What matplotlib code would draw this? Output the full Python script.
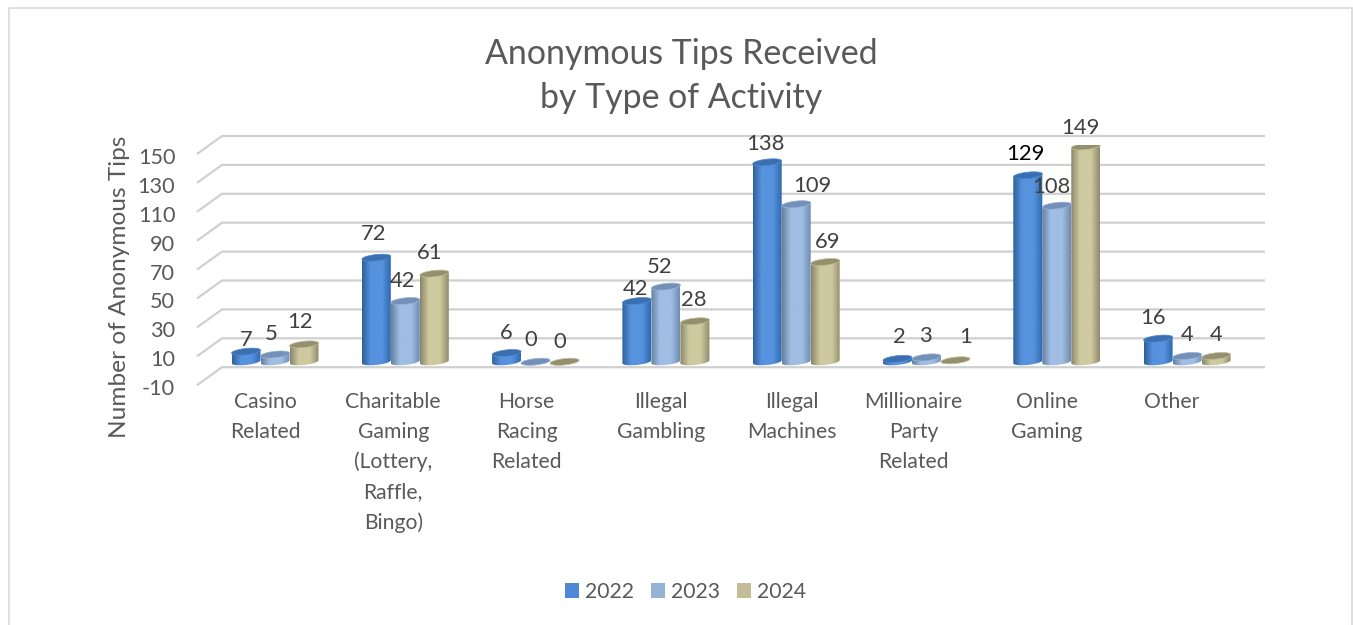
# Anonymous tips chart, drawn as faux 3D cylinders

import numpy as np
import matplotlib
matplotlib.use("Agg")
import matplotlib.pyplot as plt
from matplotlib.colors import LinearSegmentedColormap
from matplotlib.patches import Patch, PathPatch, Rectangle
from matplotlib.path import Path

plt.rcParams['font.family'] = ['Lato', 'DejaVu Sans']

# Data
categories = ["Casino\nRelated", "Charitable\nGaming\n(Lottery,\nRaffle,\nBingo)",
              "Horse\nRacing\nRelated", "Illegal\nGambling", "Illegal\nMachines",
              "Millionaire\nParty\nRelated", "Online\nGaming", "Other"]
years = ["2022", "2023", "2024"]
tips_2022 = [7, 72, 6, 42, 138, 2, 129, 16]
tips_2023 = [5, 42, 0, 52, 109, 3, 108, 4]
tips_2024 = [12, 61, 0, 28, 69, 1, 149, 4]
y_ticks = [-10, 10, 30, 50, 70, 90, 110, 130, 150]

# Manual label nudges (pixels from bar centre / bar top), as in the original
nudge_2022 = [(0, 12), (-3, 24), (0, 20), (-1, 12), (-2, 18), (2, 22), (-2, 21), (-5, 21)]
nudge_2023 = [(-4, 21), (-3, 20), (-5, 22), (-6, 20), (16, 18), (-1, 21), (-5, 19), (0, 21)]
nudge_2024 = [(-4, 22), (-5, 21), (-5, 20), (-1, 21), (2, 20), (10, 23), (-5, 18), (0, 21)]
cat_label_dx = [-10, -12, -9, -5, -4, -13, -10, -15]

# Colours: left edge, light, right edge, top, legend swatch
styles = {
    "2022": ("#2f6099", "#5692de", "#2f68ad", "#3a6fb0", "#4f88d6"),
    "2023": ("#66809f", "#a0bde3", "#6f8cb3", "#7490b8", "#95b3d7"),
    "2024": ("#8a8568", "#cfc99f", "#8f8a6c", "#94906f", "#c4bd97"),
}

W, H = 1353, 625
fig = plt.figure(figsize=(W / 100, H / 100), dpi=100)

# pixel geometry of the bar plane
px_y = 1.445  # pixels per tip
px_x = 130.3  # pixels per category
depth = 9 / px_y
tick_drop = 2 / px_y  # tick labels sit a bit under the front edge
px_left, px_right = 197, 1265
px_top = 145
y_low = -10 - depth - tick_drop - 0.1
px_bottom = px_top + (150 - y_low) * px_y
ax = fig.add_axes([px_left / W, 1 - px_bottom / H, (px_right - px_left) / W, (px_bottom - px_top) / H])
xlim = ((px_left - 275) / px_x, (px_right - 275) / px_x)
ylim = (y_low, 150)

for s in ax.spines.values():
    s.set_visible(False)
ax.patch.set_alpha(0)

# Chart border
fig.add_artist(Rectangle((8.5 / W, -0.02), (1352 - 8.5) / W, 1.02 - 7.5 / H,
                         transform=fig.transFigure, fill=False, ec="#d9d9d9", lw=1.2))

# Back wall grid with the slanted floor part
x_back = xlim[0] + 25 / px_x
for t in y_ticks:
    ax.plot([xlim[0], x_back, xlim[1]], [t - depth, t + depth, t + depth],
            color="#d0d0d0", lw=1.6, clip_on=False, zorder=1, solid_capstyle="butt")


def cylinder(x, value, style):
    edge1, light, edge2, top_edge, top_fill = style
    half = 14.5 / px_x
    b = 3.2 / px_y
    tilt = 1.5 / px_y
    t = np.linspace(0, 2 * np.pi, 60)
    ex = x + half * np.cos(t)
    sag = b * np.sin(t) + tilt * np.cos(t)
    if value > 1:
        # body: bottom half of the base ellipse and straight sides
        low = np.linspace(np.pi, 2 * np.pi, 30)
        bx = x + half * np.cos(low)
        by = b * np.sin(low) + tilt * np.cos(low)
        verts = list(zip(bx, by)) + [(x + half, value + tilt), (x - half, value - tilt), (bx[0], by[0])]
        body = PathPatch(Path(verts), transform=ax.transData, fc="none", ec="none")
        ax.add_patch(body)
        cmap = LinearSegmentedColormap.from_list(
            "cyl", [(0, edge1), (0.3, light), (0.7, light), (1, edge2)], N=64)
        im = ax.imshow(np.linspace(0, 1, 64).reshape(1, -1), cmap=cmap, aspect="auto",
                       extent=(x - half, x + half, -b - tilt, value + tilt), zorder=3,
                       interpolation="bilinear")
        im.set_clip_path(body)
    cap = np.column_stack([ex, value + sag])
    ax.add_patch(PathPatch(Path(cap), fc=top_edge, ec=top_fill, lw=0.5, zorder=4))


series = [tips_2022, tips_2023, tips_2024]
nudges = [nudge_2022, nudge_2023, nudge_2024]
bar_step = 29 / px_x

for j, yr in enumerate(years):
    for i, v in enumerate(series[j]):
        xpos = i + (j - 1) * bar_step
        cylinder(xpos, v, styles[yr])
        dx, dy = nudges[j][i]
        # the 129 label sits doubled and looks black in the source
        col = "#000000" if (yr == "2022" and v == 129) else "#404040"
        ax.annotate(str(v), (xpos, v), xytext=(dx * 0.72, dy * 0.72), textcoords="offset points",
                    ha="center", va="center", fontsize=15.8, color=col, zorder=6)

# Axis text
ax.set_yticks([t - depth - tick_drop for t in y_ticks], [str(t) for t in y_ticks])
ax.set_xticks([i + d / px_x for i, d in enumerate(cat_label_dx)], categories)
ax.tick_params(axis="y", length=0, pad=15.7, labelsize=15.6, labelcolor="#595959")
ax.tick_params(axis="x", length=0, pad=3.6, labelsize=15.2, labelcolor="#595959")
for lab in ax.get_xticklabels():
    lab.set_linespacing(1.6)

# ticks stretch the limits, so set them last
ax.set_xlim(xlim)
ax.set_ylim(ylim)

fig.text(119 / W, 1 - 287 / H, "Number of Anonymous Tips", rotation=90, ha="center", va="center",
         fontsize=17.6, color="#595959")
fig.text(681 / W, 1 - 76 / H, "Anonymous Tips Received\nby Type of Activity", ha="center", va="center",
         fontsize=24.4, color="#595959", linespacing=1.5)

# Legend
handles = [Patch(fc=styles[y][4], ec="none", label=y) for y in years]
fig.legend(handles=handles, loc="center", bbox_to_anchor=(685.5 / W, 1 - 592 / H), ncol=3, frameon=False,
           fontsize=15.2, labelcolor="#595959", handlelength=0.67, handleheight=0.67, handletextpad=0.3,
           columnspacing=0.78)

fig.savefig("out.png", dpi=100)
